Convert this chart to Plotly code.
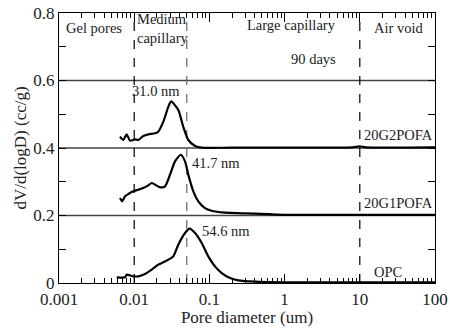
import math
import plotly.graph_objects as go

# Pore diameter (um) and dV/d(logD) (cc/g)
opc_d = [0.00585, 0.00755, 0.00794, 0.00879, 0.00973, 0.01135, 0.0139, 0.0171, 0.0209,
         0.0270, 0.0331, 0.0386, 0.0474, 0.0546, 0.0644, 0.079, 0.0967, 0.1186, 0.146,
         0.188, 0.242, 0.404, 1.0, 10.0, 100.0]
opc_v = [0.0168, 0.0168, 0.0247, 0.0227, 0.0198, 0.0198, 0.0267, 0.0395, 0.0543,
         0.0662, 0.079, 0.1136, 0.148, 0.161, 0.148, 0.1185, 0.079, 0.0494, 0.0296,
         0.0148, 0.008, 0.004, 0.002, 0.002, 0.002]

g1_d = [0.00647, 0.00695, 0.00755, 0.00836, 0.00973, 0.01135, 0.0132, 0.0154, 0.0171,
        0.0189, 0.0221, 0.0257, 0.0299, 0.0349, 0.0417, 0.0474, 0.0524, 0.0611, 0.0712,
        0.0873, 0.107, 0.146, 0.404, 1.0, 10.0, 100.0]
g1_v = [0.2519, 0.242, 0.257, 0.2637, 0.2716, 0.2765, 0.2815, 0.2894, 0.2963,
        0.2914, 0.2835, 0.2864, 0.321, 0.3605, 0.380, 0.3605, 0.321, 0.2716, 0.242,
        0.222, 0.214, 0.2095, 0.2054, 0.202, 0.202, 0.202]

g2_d = [0.00647, 0.00716, 0.00794, 0.00879, 0.01025, 0.01135, 0.0132, 0.0154, 0.0189,
        0.0209, 0.0244, 0.0284, 0.0310, 0.0386, 0.0449, 0.0524, 0.0644, 0.079, 0.2,
        1.0, 8.0, 10.0, 12.0, 100.0]
g2_v = [0.4335, 0.4237, 0.4405, 0.4217, 0.4257, 0.4237, 0.4356, 0.4405, 0.4435,
        0.4484, 0.478, 0.522, 0.538, 0.5126, 0.463, 0.4237, 0.406, 0.401, 0.401,
        0.401, 0.402, 0.405, 0.402, 0.402]

baselines = [0.2, 0.4, 0.6]
boundaries = [0.01, 0.05, 10]
y_ticks = [0, 0.2, 0.4, 0.6, 0.8]
y_tick_text = ["0", "0.2", "0.4", "0.6", "0.8"]

FONT = "Liberation Serif, Times New Roman, serif"
TXT = "#222222"

fig = go.Figure()
for d, v in [(opc_d, opc_v), (g1_d, g1_v), (g2_d, g2_v)]:
    fig.add_trace(go.Scatter(x=d, y=v, mode="lines",
                             line=dict(color="black", width=2.2, shape="spline", smoothing=0.6),
                             showlegend=False))

shapes = []
for b in baselines:
    shapes.append(dict(type="line", xref="paper", x0=0, x1=1, yref="y", y0=b, y1=b,
                       line=dict(color="#444444", width=1.3), layer="below"))
for b in boundaries:
    shapes.append(dict(type="line", xref="x", x0=b, x1=b, yref="paper", y0=0, y1=1,
                       line=dict(color="#666666" if b == 0.05 else "black", width=1.2, dash="dash"),
                       layer="below"))

ann = [
    ("Gel pores", 0.0029, 0.757, "center"),
    ("Medium<br>capillary", 0.0104, 0.755, "left"),
    ("Large capillary", 1.25, 0.763, "center"),
    ("Air void", 33, 0.755, "center"),
    ("90 days", 2.4, 0.663, "center"),
    ("31.0 nm", 0.0195, 0.568, "center"),
    ("41.7 nm", 0.121, 0.357, "center"),
    ("54.6 nm", 0.165, 0.155, "center"),
    ("20G2POFA", 99, 0.438, "right"),
    ("20G1POFA", 99, 0.238, "right"),
    ("OPC", 24, 0.034, "center"),
]
annotations = []
for t, x, y, al in ann:
    annotations.append(dict(text=t, x=math.log10(x), y=y, xref="x", yref="y",
                            showarrow=False, xanchor=al, yanchor="middle", align=al,
                            font=dict(family=FONT, size=14.5, color=TXT)))

fig.update_layout(
    width=450, height=332,
    margin=dict(l=59, r=15, t=13, b=49),
    paper_bgcolor="white", plot_bgcolor="white",
    shapes=shapes, annotations=annotations,
    font=dict(family=FONT, color="black"),
    xaxis=dict(type="log", range=[-3, 2], tickmode="linear", tick0=0, dtick=1,
               automargin=False,
               ticks="inside", ticklen=9, tickwidth=1.4, tickcolor="black",
               showline=True, linecolor="black",
               linewidth=1.2, mirror="ticks", showgrid=False, zeroline=False,
               tickfont=dict(family=FONT, size=17, color=TXT),
               title=dict(text="Pore diameter (um)", font=dict(family=FONT, size=17, color=TXT),
                          standoff=0),
               minor=dict(ticks="inside", ticklen=5, dtick="D1",
                          tickwidth=1.3, tickcolor="black", showgrid=False)),
    yaxis=dict(range=[0, 0.8], tickvals=y_ticks, ticktext=y_tick_text,
               automargin=False,
               ticks="inside", ticklen=7, tickwidth=1.4, tickcolor="black",
               showline=True, linecolor="black",
               linewidth=1.2, mirror="ticks", showgrid=False, zeroline=False,
               tickfont=dict(family=FONT, size=17, color=TXT),
               title=dict(text="dV/d(logD) (cc/g)", font=dict(family=FONT, size=17, color=TXT),
                          standoff=2),
               minor=dict(tickmode="array", tickvals=[0.1, 0.3, 0.5, 0.7], ticks="inside",
                          ticklen=7, tickwidth=1.3, tickcolor="black", showgrid=False)),
)

fig.write_html("out.html", config={"displayModeBar": False},
               post_script="document.body.style.margin='0';document.body.style.padding='0';")
